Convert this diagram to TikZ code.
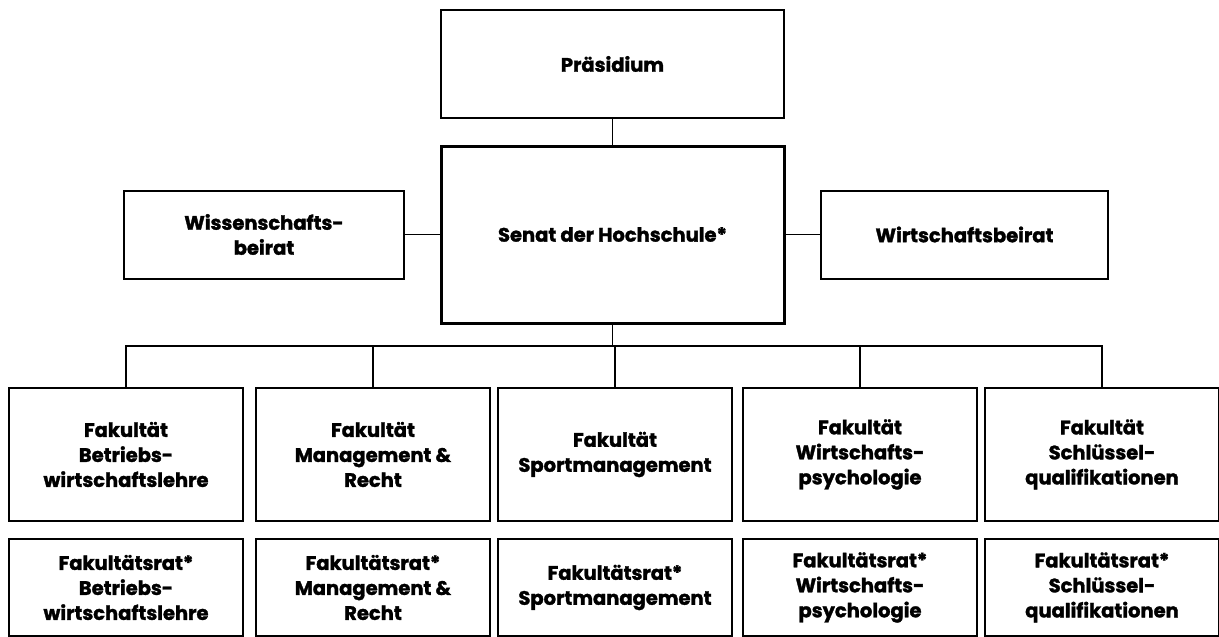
\documentclass[tikz,border=0pt]{standalone}
\usepackage{fontspec}
\setmainfont{Poppins}[BoldFeatures={FakeBold=1.6}]
\usetikzlibrary{positioning}
\tikzset{
  orgbox/.style={draw=black, line width=2pt, align=center, inner sep=2pt,
    font=\bfseries\fontsize{19.5pt}{25pt}\selectfont},
  topbox/.style={orgbox, minimum width=343pt, minimum height=108pt},
  senatbox/.style={orgbox, line width=3pt, minimum width=343pt, minimum height=177pt},
  sidebox/.style={orgbox, minimum height=88pt},
  facbox/.style={orgbox, minimum width=234pt, minimum height=133pt},
  ratbox/.style={orgbox, minimum width=234pt, minimum height=97pt},
  link/.style={line width=1.6pt}
}

\begin{document}
\begin{tikzpicture}[x=1pt, y=-1pt, node distance=25.5pt and 34.5pt]
\useasboundingbox (0,0) rectangle (1219,637);
\node[topbox] (praes) at (612.5,64) {Präsidium};
\node[senatbox, below=of praes] (senat) {Senat der Hochschule*};
\node[sidebox, minimum width=280pt, left=of senat] (wiss) {Wissenschafts-\\beirat};
\node[sidebox, minimum width=287pt, right=of senat] (wirt) {Wirtschaftsbeirat};

\node[facbox] (fac1) at (126,454.5) {Fakultät\\Betriebs-\\wirtschaftslehre};
\node[facbox] (fac2) at (373,454.5) {Fakultät\\Management \&\\Recht};
\node[facbox] (fac3) at (615,454.5) {Fakultät\\Sportmanagement};
\node[facbox] (fac4) at (860,454.5) {Fakultät\\Wirtschafts-\\psychologie};
\node[facbox] (fac5) at (1102,454.5) {Fakultät\\Schlüssel-\\qualifikationen};

\node[ratbox, below=16pt of fac1] (rat1) {Fakultätsrat*\\Betriebs-\\wirtschaftslehre};
\node[ratbox, below=16pt of fac2] (rat2) {Fakultätsrat*\\Management \&\\Recht};
\node[ratbox, below=16pt of fac3] (rat3) {Fakultätsrat*\\Sportmanagement};
\node[ratbox, below=16pt of fac4] (rat4) {Fakultätsrat*\\Wirtschafts-\\psychologie};
\node[ratbox, below=16pt of fac5] (rat5) {Fakultätsrat*\\Schlüssel-\\qualifikationen};

\coordinate (bus) at (612.5,346);
\draw[link] (praes) -- (senat);
\draw[link] (wiss) -- (senat);
\draw[link] (senat) -- (wirt);
\draw[link] (senat) -- (bus);
\draw[link] (fac1.north) |- (bus) -| (fac5.north);
\foreach \f in {fac2,fac3,fac4}
  \draw[link] (\f.north) -- (\f.north |- bus);
\end{tikzpicture}
\end{document}
